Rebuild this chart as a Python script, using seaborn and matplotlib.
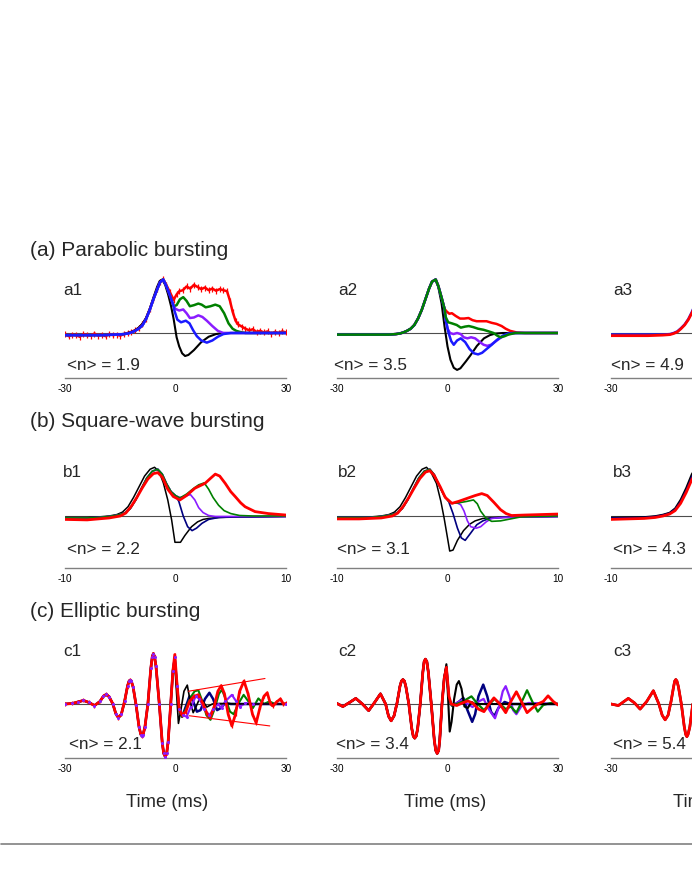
import matplotlib
matplotlib.use("Agg")
import matplotlib.pyplot as plt
from matplotlib.lines import Line2D
import seaborn as sns

# ---------------- data (time in ms, amplitude normalised: baseline 0, spike peak 1) -------------
# (a1) parabolic bursting, <n> = 1.9
a1_pre_t = [-30, -25, -20, -16, -14, -13, -12, -11, -10, -9, -8, -7, -6, -5, -4.2, -3.3, -2.5, -1.5, -0.5]
a1_pre_v = [-0.04, -0.04, -0.04, -0.03, -0.02, -0.01, 0.01, 0.04, 0.08, 0.14, 0.26, 0.43, 0.63, 0.81, 0.95, 1.0, 0.88, 0.7, 0.5]
a1_black_t = [-30, -25, -20, -16, -14, -13, -12, -11, -10, -9, -8, -7, -6, -5, -4.3, -3.6, -2.8, -2.0, -1.2, -0.5, 0.3, 1.0, 1.8, 2.6, 3.5, 5.0, 7.0, 9.0, 11.0, 13.0, 20.0, 30.0]
a1_black_v = [-0.04, -0.04, -0.04, -0.03, -0.02, 0.0, 0.02, 0.05, 0.1, 0.17, 0.28, 0.45, 0.66, 0.86, 0.97, 1.0, 0.9, 0.72, 0.5, 0.26, -0.08, -0.25, -0.38, -0.43, -0.41, -0.32, -0.17, -0.07, -0.02, 0.0, 0.0, 0.0]
a1_blue_t = [-0.3, 0.5, 1.5, 2.8, 3.8, 4.8, 5.8, 7.0, 8.5, 10.0, 11.5, 13.0, 15.0, 20.0, 30.0]
a1_blue_v = [0.42, 0.25, 0.2, 0.23, 0.18, 0.05, -0.06, -0.14, -0.18, -0.14, -0.07, -0.02, 0.0, 0.0, 0.0]
a1_purple_t = [0.0, 1.0, 2.1, 3.0, 3.9, 5.0, 6.2, 7.3, 8.5, 10.0, 11.5, 13.0, 15.0, 20.0, 30.0]
a1_purple_v = [0.45, 0.42, 0.44, 0.37, 0.28, 0.29, 0.33, 0.3, 0.23, 0.13, 0.04, 0.0, 0.0, 0.0, 0.0]
a1_green_t = [0.3, 1.2, 2.1, 3.0, 3.9, 5.0, 6.2, 7.1, 8.2, 9.5, 10.8, 12.0, 13.2, 14.4, 15.5, 16.5, 17.5, 19.0, 22.0, 30.0]
a1_green_v = [0.52, 0.63, 0.67, 0.6, 0.5, 0.52, 0.55, 0.53, 0.48, 0.5, 0.53, 0.5, 0.37, 0.18, 0.08, 0.04, 0.02, 0.0, 0.0, 0.0]
a1_red_t = [-30, -29, -28, -27, -26, -25, -24, -23, -22, -21, -20, -19, -18, -17, -16, -15, -14, -13,
            -12, -11, -10, -9, -8, -7, -6, -5, -4.2, -3.3, -2.5, -1.5, -0.5, 0.3,
            1, 2, 3, 4, 5, 6, 7, 8, 9, 10, 11, 12, 13, 14, 14.8, 15.5, 16.3,
            17, 18, 19, 20, 21, 22, 23, 24, 25, 26, 27, 28, 29, 30]
a1_red_v = [-0.02, -0.06, -0.03, -0.04, -0.07, -0.02, -0.04, -0.05, -0.01, -0.05, -0.03, -0.06, -0.02, -0.04, -0.03, -0.05, -0.02, 0.0,
            0.02, 0.05, 0.09, 0.16, 0.27, 0.44, 0.63, 0.82, 0.95, 1.0, 0.9, 0.76, 0.62, 0.72,
            0.78, 0.8, 0.87, 0.83, 0.9, 0.86, 0.82, 0.85, 0.8, 0.83, 0.79, 0.82, 0.8, 0.78, 0.6, 0.4, 0.23,
            0.16, 0.12, 0.08, 0.05, 0.07, 0.02, 0.04, 0.01, 0.03, -0.01, 0.02, 0.0, 0.03, 0.01]

# (a2) <n> = 3.5
a2_pre_t = [-30, -25, -20, -16, -14, -13, -12, -11, -10, -9, -8, -7, -6, -5, -4.2, -3.2, -2.5, -1.6, -0.8]
a2_pre_v = [-0.03, -0.03, -0.03, -0.03, -0.02, -0.01, 0.01, 0.04, 0.08, 0.15, 0.27, 0.43, 0.63, 0.83, 0.96, 1.0, 0.88, 0.66, 0.45]
a2_black_t = [-30, -20, -14, -13, -12, -11, -10, -9, -8, -7, -6, -5, -4.2, -3.3, -2.5, -1.6, -0.8, 0.0, 0.8, 1.7, 2.6, 3.5, 5.0, 6.2, 8.0, 9.9, 11.5, 13.0, 15.0, 30.0]
a2_black_v = [-0.03, -0.03, -0.02, -0.01, 0.01, 0.04, 0.08, 0.15, 0.27, 0.43, 0.63, 0.83, 0.96, 1.0, 0.86, 0.55, 0.12, -0.25, -0.5, -0.65, -0.69, -0.66, -0.53, -0.42, -0.24, -0.1, -0.04, -0.01, 0.0, 0.0]
a2_red_t = [-0.2, 0.5, 1.2, 2.2, 3.4, 4.5, 5.7, 6.8, 7.9, 9.2, 10.6, 12.0, 13.3, 14.7, 15.8, 17.0, 18.8, 21.0, 30.0]
a2_red_v = [0.4, 0.36, 0.37, 0.32, 0.27, 0.27, 0.28, 0.24, 0.22, 0.22, 0.22, 0.19, 0.17, 0.13, 0.08, 0.04, 0.01, 0.0, 0.0]
a2_green_t = [-0.5, 0.2, 1.2, 2.5, 3.6, 4.8, 5.8, 7.0, 8.3, 9.8, 11.2, 12.5, 13.5, 14.4, 15.5, 16.5, 18.4, 21.0, 30.0]
a2_green_v = [0.3, 0.2, 0.18, 0.15, 0.1, 0.12, 0.13, 0.11, 0.08, 0.06, 0.03, 0.0, -0.05, -0.08, -0.06, -0.03, 0.0, 0.0, 0.0]
a2_purple_t = [-0.5, 0.0, 0.7, 1.6, 2.6, 3.6, 4.4, 5.4, 6.4, 7.5, 8.6, 9.8, 10.8, 11.8, 13.0, 14.2, 15.4, 17.0, 19.0, 30.0]
a2_purple_v = [0.25, 0.08, 0.0, -0.02, 0.0, -0.02, -0.08, -0.1, -0.08, -0.1, -0.16, -0.22, -0.24, -0.22, -0.16, -0.1, -0.05, -0.01, 0.0, 0.0]
a2_blue_t = [-0.5, 0.3, 1.0, 1.7, 2.6, 3.6, 4.8, 6.0, 7.2, 8.3, 9.4, 10.6, 12.0, 13.4, 15.0, 16.5, 18.0, 30.0]
a2_blue_v = [0.25, 0.0, -0.15, -0.22, -0.14, -0.1, -0.17, -0.3, -0.38, -0.4, -0.37, -0.3, -0.22, -0.13, -0.05, -0.01, 0.0, 0.0]

# (a3) <n> = 4.9 (only the left part is inside the picture)
a3_t = [-30, -25, -20, -16, -14, -13, -12, -11, -10, -9, -8, -7, -6, -5, -4, -3.3]
a3_blue_v = [-0.03, -0.03, -0.03, -0.03, -0.02, 0.0, 0.03, 0.09, 0.16, 0.26, 0.4, 0.57, 0.76, 0.91, 0.98, 1.0]
a3_red_v = [-0.05, -0.05, -0.05, -0.04, -0.03, -0.01, 0.02, 0.08, 0.15, 0.25, 0.38, 0.55, 0.74, 0.9, 0.98, 1.0]

# (b1) square-wave bursting, <n> = 2.2
b1_black_t = [-10, -8, -7, -6, -5.3, -4.8, -4.3, -3.8, -3.3, -2.8, -2.3, -1.9, -1.5, -1.1, -0.7, -0.35, -0.05, 0.45, 0.85, 1.45, 2.0, 2.5, 3.0, 4.0, 6.0, 10.0]
b1_black_v = [-0.03, -0.03, -0.02, 0.0, 0.03, 0.08, 0.19, 0.38, 0.6, 0.82, 0.96, 1.0, 0.92, 0.68, 0.33, -0.08, -0.54, -0.54, -0.4, -0.22, -0.12, -0.07, -0.05, -0.03, -0.02, -0.01]
b1_pre_t = [-10, -8, -7, -6, -5.2, -4.6, -4.1, -3.6, -3.1, -2.6, -2.1, -1.6, -1.2, -0.8, -0.4, 0.0]
b1_pre_v = [-0.04, -0.04, -0.03, -0.01, 0.02, 0.06, 0.15, 0.33, 0.56, 0.78, 0.92, 0.96, 0.86, 0.66, 0.5, 0.42]
b1_navy_t = [0.3, 0.7, 1.1, 1.5, 1.9, 2.4, 3.0, 3.9, 5.0, 7.0, 10.0]
b1_navy_v = [0.3, 0.0, -0.22, -0.3, -0.25, -0.15, -0.07, -0.03, -0.02, -0.02, -0.01]
b1_purple_t = [0.4, 0.9, 1.35, 1.75, 2.1, 2.5, 3.0, 3.6, 5.0, 7.0, 10.0]
b1_purple_v = [0.38, 0.41, 0.44, 0.33, 0.17, 0.07, 0.01, -0.01, -0.01, -0.01, -0.01]
b1_green_t = [0.4, 1.0, 1.6, 2.1, 2.6, 3.0, 3.4, 3.9, 4.4, 5.0, 5.8, 7.0, 10.0]
b1_green_v = [0.37, 0.45, 0.56, 0.64, 0.68, 0.55, 0.38, 0.22, 0.11, 0.05, 0.01, 0.0, 0.0]
b1_red_t = [-10, -8, -7, -6, -5.0, -4.5, -4.0, -3.5, -3.0, -2.5, -2.0, -1.6, -1.2, -0.7, -0.2, 0.4, 1.0, 1.75, 2.67, 3.2, 3.6, 4.0, 4.5, 5.0, 5.4, 5.9, 6.3, 7.2, 8.4, 10.0]
b1_red_v = [-0.07, -0.08, -0.06, -0.04, 0.0, 0.06, 0.2, 0.38, 0.58, 0.76, 0.87, 0.89, 0.8, 0.55, 0.4, 0.33, 0.42, 0.57, 0.67, 0.78, 0.86, 0.82, 0.67, 0.5, 0.4, 0.27, 0.19, 0.09, 0.05, 0.02]

# (b2) <n> = 3.1
b2_black_t = [-10, -8, -7, -6, -5.3, -4.8, -4.3, -3.8, -3.3, -2.8, -2.3, -1.9, -1.5, -1.0, -0.6, -0.3, 0.0, 0.2, 0.5, 0.9, 1.45, 2.0, 2.5, 3.2, 4.5, 6.0, 10.0]
b2_black_v = [-0.02, -0.02, -0.02, 0.0, 0.03, 0.08, 0.19, 0.38, 0.6, 0.82, 0.96, 1.0, 0.9, 0.67, 0.3, -0.05, -0.45, -0.72, -0.7, -0.5, -0.3, -0.17, -0.1, -0.05, -0.03, -0.02, -0.01]
b2_pre_t = [-10, -8, -7, -6, -5.2, -4.6, -4.1, -3.6, -3.1, -2.6, -2.1, -1.6, -1.2, -0.7, -0.3, 0.1]
b2_pre_v = [-0.03, -0.03, -0.03, -0.01, 0.02, 0.06, 0.15, 0.33, 0.56, 0.78, 0.92, 0.96, 0.85, 0.6, 0.42, 0.3]
b2_navy_t = [0.5, 0.9, 1.25, 1.6, 2.1, 2.65, 3.2, 3.8, 5.0, 7.0, 10.0]
b2_navy_v = [0.05, -0.25, -0.45, -0.5, -0.35, -0.18, -0.1, -0.05, -0.03, -0.02, -0.01]
b2_purple_t = [0.4, 0.85, 1.2, 1.5, 1.8, 2.1, 2.6, 3.0, 3.5, 4.0, 5.0, 7.0, 10.0]
b2_purple_v = [0.26, 0.27, 0.23, 0.1, -0.1, -0.22, -0.25, -0.22, -0.12, -0.05, -0.03, -0.02, -0.01]
b2_green_t = [0.4, 1.0, 1.75, 2.35, 2.7, 3.0, 3.5, 4.0, 4.8, 5.7, 6.6, 8.0, 10.0]
b2_green_v = [0.26, 0.27, 0.3, 0.33, 0.25, 0.1, -0.05, -0.11, -0.1, -0.06, -0.02, -0.01, 0.0]
b2_red_t = [-10, -8, -7, -6, -5.0, -4.5, -4.0, -3.5, -3.0, -2.5, -2.0, -1.6, -1.2, -0.66, -0.2, 0.4, 1.0, 1.75, 2.5, 3.1, 3.6, 4.2, 4.8, 5.3, 5.8, 7.0, 8.5, 10.0]
b2_red_v = [-0.06, -0.06, -0.05, -0.04, 0.0, 0.06, 0.2, 0.38, 0.58, 0.77, 0.9, 0.93, 0.83, 0.6, 0.38, 0.26, 0.3, 0.36, 0.42, 0.46, 0.42, 0.28, 0.13, 0.05, 0.01, 0.02, 0.03, 0.04]

# (b3) <n> = 4.3 (left part only)
b3_t = [-10, -7, -6, -5.3, -4.7, -4.2, -3.7, -3.2, -2.7, -2.3, -1.9]
b3_black_v = [-0.03, -0.02, 0.0, 0.03, 0.07, 0.16, 0.34, 0.58, 0.86, 1.0, 1.0]
b3_navy_v = [-0.04, -0.03, -0.01, 0.02, 0.06, 0.14, 0.3, 0.53, 0.8, 0.95, 0.98]
b3_red_v = [-0.07, -0.05, -0.03, 0.0, 0.04, 0.11, 0.26, 0.48, 0.74, 0.9, 0.95]

# (c1) elliptic bursting, <n> = 2.1
c1_pre_t = [-30, -28, -26.5, -25, -23.5, -22, -20.5, -19.6, -18.8, -18, -17, -16.2, -15.5, -14.7, -13.8, -13,
            -12.6, -12.3, -12.0, -11.5, -10.7, -9.9, -9.4, -9.1, -8.8, -8.3, -7.5, -6.7, -6.3, -6.0, -5.7, -5.3,
            -4.4, -3.6, -3.2, -2.8, -2.4, -2.0, -1.3, -0.7]
c1_pre_v = [0.0, 0.01, 0.04, 0.07, 0.03, -0.03, 0.05, 0.15, 0.19, 0.14, 0.0, -0.19, -0.27, -0.2, 0.06, 0.36,
            0.45, 0.47, 0.45, 0.33, -0.02, -0.45, -0.6, -0.62, -0.6, -0.45, 0.0, 0.7, 0.93, 0.99, 0.93, 0.74,
            0.0, -0.76, -0.97, -1.03, -0.97, -0.74, 0.0, 0.65]
c1_black_t = [-0.2, 0.3, 0.8, 1.5, 2.3, 3.2, 4.0, 4.8, 5.6, 6.5, 7.5, 8.5, 10.0, 12.0, 20.0, 30.0]
c1_black_v = [0.8, 0.2, -0.38, -0.1, 0.25, 0.37, 0.05, -0.17, -0.05, 0.1, 0.05, -0.06, 0.0, 0.01, 0.0, 0.0]
c1_navy_t = [-0.2, 0.4, 1.0, 1.8, 2.8, 3.8, 4.8, 5.8, 6.8, 8.0, 9.2, 10.2, 11.3, 12.3, 13.5, 15.0, 30.0]
c1_navy_v = [0.9, 0.35, -0.1, -0.25, -0.05, 0.15, 0.05, -0.15, -0.12, 0.1, 0.22, 0.1, -0.12, -0.08, 0.02, 0.0, 0.0]
c1_green_t = [-0.2, 0.4, 1.0, 1.8, 2.8, 4.0, 5.2, 6.2, 7.3, 8.4, 9.5, 10.6, 11.8, 12.6, 13.6, 14.8, 15.8, 17.0,
              18.5, 19.8, 21.0, 22.5, 24.0, 25.5, 27.0, 30.0]
c1_green_v = [0.92, 0.35, -0.1, -0.25, -0.1, 0.12, 0.25, 0.27, 0.05, -0.22, -0.31, -0.1, 0.2, 0.28, 0.1, -0.15, -0.2, 0.0,
              0.18, 0.05, -0.08, 0.11, 0.0, 0.05, 0.0, 0.0]
c1_purple_t = [-0.2, 0.4, 1.0, 2.0, 3.0, 4.2, 5.5, 6.5, 7.8, 9.2, 10.3, 11.5, 12.5, 13.5, 15.3, 16.5, 17.5, 19.0, 21.0, 30.0]
c1_purple_v = [0.92, 0.35, -0.1, -0.22, -0.25, -0.05, 0.15, 0.1, -0.1, -0.22, -0.1, 0.0, -0.08, 0.05, 0.18, 0.05, -0.05, 0.02, 0.0, 0.0]
c1_red_t = [-0.2, 0.4, 1.0, 1.8, 2.8, 3.8, 5.0, 6.2, 7.5, 8.6, 9.5, 10.5, 11.5, 12.4, 13.3, 14.3, 15.3, 16.3, 17.4, 18.6,
            19.7, 20.9, 21.9, 23.0, 24.0, 24.9, 25.8, 26.5, 27.3, 28.5, 29.3, 30.0]
c1_red_v = [0.97, 0.4, -0.1, -0.22, -0.15, 0.05, 0.15, 0.18, 0.0, -0.2, -0.25, -0.05, 0.25, 0.36, 0.2, -0.2, -0.43, -0.2, 0.25, 0.45,
            0.2, -0.2, -0.37, -0.05, 0.15, 0.22, 0.0, -0.04, 0.03, 0.1, 0.0, 0.01]
c1_env_top_t = [3.5, 24.3]
c1_env_top_v = [0.25, 0.5]
c1_env_bot_t = [3.7, 25.6]
c1_env_bot_v = [-0.23, -0.43]

# (c2) <n> = 3.4
c2_pre_t = [-30, -28.4, -26.6, -24.9, -23.1, -21.4, -19.8, -18.2, -16.8, -16.0, -15.3, -14.5, -13.7, -12.9, -12.5,
            -12.1, -11.7, -11.3, -10.5, -9.7, -9.3, -8.9, -8.5, -8.1, -7.4, -6.7, -6.35, -6.0, -5.6, -5.2,
            -4.4, -3.6, -3.2, -2.8, -2.4, -2.1, -1.5, -0.9]
c2_pre_v = [0.01, -0.05, 0.03, 0.11, 0.0, -0.13, 0.03, 0.2, 0.0, -0.24, -0.33, -0.23, 0.02, 0.35, 0.45,
            0.48, 0.45, 0.34, 0.0, -0.48, -0.63, -0.67, -0.63, -0.48, 0.0, 0.62, 0.83, 0.88, 0.83, 0.62,
            0.0, -0.7, -0.91, -0.97, -0.91, -0.7, 0.0, 0.5]
c2_black_t = [-0.3, 0.1, 0.6, 1.1, 1.8, 2.5, 3.1, 3.8, 4.6, 5.5, 6.5, 7.5, 9.0, 30.0]
c2_black_v = [0.78, 0.2, -0.54, -0.35, 0.1, 0.38, 0.45, 0.3, -0.05, -0.08, 0.04, 0.0, 0.0, 0.0]
c2_navy_t = [-0.3, 0.4, 1.2, 2.2, 3.2, 4.3, 5.3, 6.7, 7.5, 8.4, 9.7, 10.8, 11.8, 12.7, 13.8, 15.5, 17.0, 30.0]
c2_navy_v = [0.72, 0.1, -0.03, 0.0, 0.05, 0.12, -0.1, -0.35, -0.2, 0.15, 0.38, 0.15, -0.15, -0.24, -0.08, 0.04, 0.0, 0.0]
c2_purple_t = [-0.3, 0.4, 1.2, 2.5, 4.0, 5.5, 6.8, 8.5, 9.8, 11.2, 12.9, 14.2, 15.0, 15.8, 16.8, 17.8, 18.7, 20.0, 22.0, 30.0]
c2_purple_v = [0.72, 0.1, -0.03, 0.02, 0.08, 0.0, -0.06, 0.05, 0.1, -0.1, -0.28, 0.0, 0.25, 0.35, 0.15, -0.12, -0.2, -0.05, 0.02, 0.0]
c2_green_t = [-0.3, 0.4, 1.2, 2.5, 4.2, 6.5, 8.2, 9.9, 11.4, 12.8, 14.3, 15.8, 17.2, 18.7, 20.2, 21.6, 23.0, 24.5, 26.0, 28.0, 30.0]
c2_green_v = [0.72, 0.1, -0.03, 0.0, 0.05, 0.15, 0.0, -0.12, 0.0, 0.1, 0.0, -0.1, -0.05, -0.17, 0.05, 0.27, 0.05, -0.15, -0.02, 0.02, 0.0]
c2_red_t = [-0.3, 0.4, 1.0, 2.5, 4.0, 5.5, 6.8, 8.4, 9.9, 11.3, 12.6, 14.2, 15.8, 17.2, 18.7, 20.2, 21.6, 23.0, 24.5, 26.0, 27.3, 28.7, 30.0]
c2_red_v = [0.72, 0.15, 0.0, -0.03, 0.02, 0.06, 0.02, -0.1, -0.15, 0.0, 0.12, 0.0, -0.17, 0.05, 0.24, 0.03, -0.17, -0.08, 0.0, 0.05, 0.16, 0.05, -0.02]

# (c3) <n> = 5.4 (left part only)
c3_t = [-30, -28, -25.3, -23.6, -22.1, -20.3, -18.5, -17, -16.1, -15.3, -14.5, -13.7, -13.0, -12.7, -12.4, -12.1, -11.7,
        -10.9, -10.1, -9.7, -9.4, -9.1, -8.6, -7.8]
c3_v = [0.0, -0.03, 0.11, 0.02, -0.1, 0.05, 0.26, 0.0, -0.22, -0.31, -0.22, 0.05, 0.34, 0.45, 0.48, 0.45, 0.34,
        0.0, -0.45, -0.6, -0.64, -0.6, -0.45, 0.0]

row_titles = ["(a) Parabolic bursting", "(b) Square-wave bursting", "(c) Elliptic bursting"]
panel_names = [["a1", "a2", "a3"], ["b1", "b2", "b3"], ["c1", "c2", "c3"]]
n_labels = [["<n> = 1.9", "<n> = 3.5", "<n> = 4.9"],
            ["<n> = 2.2", "<n> = 3.1", "<n> = 4.3"],
            ["<n> = 2.1", "<n> = 3.4", "<n> = 5.4"]]
row_ticks = [[-30, 0, 30], [-10, 0, 10], [-30, 0, 30]]
row_tick_labels = [["-30", "0", "30"], ["-10", "0", "10"], ["-30", "0", "30"]]
x_label = "Time (ms)"

# ---------------- style ----------------
BLACK, BLUE, NAVY, PURPLE, GREEN, RED = "#000000", "#1a1aff", "#000080", "#8a1cff", "#008000", "#ff0000"

sns.set_style("white")
plt.rcParams["font.family"] = ["Liberation Sans", "DejaVu Sans"]

W, H = 692, 896
fig = plt.figure(figsize=(W / 100, H / 100), dpi=100)
fig.patch.set_facecolor("white")

def fx(px):
    return px / W

def fy(py):
    return 1 - py / H

col_left = [65, 337, 611]
col_width = 221
# per row: spine pixel, baseline pixel, pixels per unit, top of y-range (units)
row_geom = [(378, 333, 53.5, 1.2), (568, 516, 48.7, 1.2), (758, 704, 51.0, 1.15)]
row_xlim = [(-30, 30), (-10, 10), (-30, 30)]

axes = []
for r in range(3):
    spine, base, unit, ytop = row_geom[r]
    ybot = -(spine - base) / unit
    top_px = base - ytop * unit
    row_axes = []
    for c in range(3):
        ax = fig.add_axes([fx(col_left[c]), fy(spine), col_width / W, (spine - top_px) / H])
        x0, x1 = row_xlim[r]
        ax.set_xlim(x0, x1)
        ax.set_ylim(ybot, ytop)
        ax.set_facecolor("none")
        for s in ("left", "right", "top"):
            ax.spines[s].set_visible(False)
        ax.spines["bottom"].set_color("#808080")
        ax.spines["bottom"].set_linewidth(1.0)
        ax.set_yticks([])
        ax.set_xticks(row_ticks[r])
        # tick labels that would fall outside the picture are left blank (cropped panel)
        labels = []
        for tk, lab in zip(row_ticks[r], row_tick_labels[r]):
            px = col_left[c] + (tk - x0) / (x1 - x0) * col_width
            labels.append(lab if px < W - 8 else "")
        ax.set_xticklabels(labels)
        ax.tick_params(axis="x", direction="out", length=3, width=0.8, color="#808080",
                       pad=1.5, labelsize=7.2, labelcolor="black")
        ax.axhline(0, color="#4d4d4d", lw=0.8, zorder=1)
        ax.set_xlabel("")
        ax.set_ylabel("")
        row_axes.append(ax)
    axes.append(row_axes)

def draw(ax, t, v, color, lw, z, **kw):
    sns.lineplot(x=t, y=v, ax=ax, color=color, linewidth=lw, zorder=z, sort=False,
                 estimator=None, legend=False, **kw)

# ---- row a ----
ax = axes[0][0]
draw(ax, a1_red_t, a1_red_v, RED, 1.8, 2, marker="|", markersize=4, markeredgewidth=0.9, markeredgecolor=RED)
draw(ax, a1_pre_t + a1_green_t, a1_pre_v + a1_green_v, GREEN, 1.8, 3)
draw(ax, a1_black_t, a1_black_v, BLACK, 1.5, 4)
draw(ax, a1_pre_t + a1_purple_t, a1_pre_v + a1_purple_v, PURPLE, 1.8, 5)
draw(ax, a1_pre_t + a1_blue_t, a1_pre_v + a1_blue_v, BLUE, 1.8, 6)

ax = axes[0][1]
draw(ax, a2_pre_t + a2_red_t, a2_pre_v + a2_red_v, RED, 1.8, 2)
draw(ax, a2_black_t, a2_black_v, BLACK, 1.5, 3)
draw(ax, a2_pre_t + a2_purple_t, a2_pre_v + a2_purple_v, PURPLE, 1.8, 4)
draw(ax, a2_pre_t + a2_blue_t, a2_pre_v + a2_blue_v, BLUE, 1.8, 5)
draw(ax, a2_pre_t + a2_green_t, a2_pre_v + a2_green_v, GREEN, 1.8, 6)

ax = axes[0][2]
draw(ax, a3_t, a3_blue_v, BLUE, 1.8, 3)
draw(ax, a3_t, a3_red_v, RED, 2.0, 4)

# ---- row b ----
ax = axes[1][0]
draw(ax, b1_black_t, b1_black_v, BLACK, 1.1, 2)
draw(ax, b1_pre_t + b1_navy_t, b1_pre_v + b1_navy_v, NAVY, 1.2, 3)
draw(ax, b1_pre_t + b1_purple_t, b1_pre_v + b1_purple_v, PURPLE, 1.2, 4)
draw(ax, b1_pre_t + b1_green_t, b1_pre_v + b1_green_v, GREEN, 1.2, 5)
draw(ax, b1_red_t, b1_red_v, RED, 2.0, 6)

ax = axes[1][1]
draw(ax, b2_black_t, b2_black_v, BLACK, 1.1, 2)
draw(ax, b2_pre_t + b2_navy_t, b2_pre_v + b2_navy_v, NAVY, 1.2, 3)
draw(ax, b2_pre_t + b2_purple_t, b2_pre_v + b2_purple_v, PURPLE, 1.2, 4)
draw(ax, b2_pre_t + b2_green_t, b2_pre_v + b2_green_v, GREEN, 1.2, 5)
draw(ax, b2_red_t, b2_red_v, RED, 2.0, 6)

ax = axes[1][2]
draw(ax, b3_t, b3_black_v, BLACK, 1.2, 2)
draw(ax, b3_t, b3_navy_v, NAVY, 1.2, 3)
draw(ax, b3_t, b3_red_v, RED, 2.0, 4)

# ---- row c ----
ax = axes[2][0]
draw(ax, c1_pre_t + c1_navy_t, c1_pre_v + c1_navy_v, NAVY, 1.8, 2)
draw(ax, c1_pre_t + c1_green_t, c1_pre_v + c1_green_v, GREEN, 1.5, 3)
draw(ax, c1_pre_t + c1_purple_t, c1_pre_v + c1_purple_v, PURPLE, 1.5, 4)
draw(ax, c1_pre_t + c1_black_t, c1_pre_v + c1_black_v, BLACK, 1.2, 5)
draw(ax, c1_pre_t + c1_red_t, c1_pre_v + c1_red_v, RED, 2.0, 6,
     marker="|", markersize=3.5, markeredgewidth=0.9, markeredgecolor=RED)
draw(ax, c1_pre_t + c1_purple_t, c1_pre_v + c1_purple_v, PURPLE, 0, 7,
     linestyle="", marker="o", markersize=2.2, markeredgewidth=0, markerfacecolor=PURPLE)
draw(ax, c1_env_top_t, c1_env_top_v, RED, 0.8, 7)
draw(ax, c1_env_bot_t, c1_env_bot_v, RED, 0.8, 7)

ax = axes[2][1]
draw(ax, c2_pre_t + c2_navy_t, c2_pre_v + c2_navy_v, NAVY, 1.8, 2)
draw(ax, c2_pre_t + c2_purple_t, c2_pre_v + c2_purple_v, PURPLE, 1.6, 3)
draw(ax, c2_pre_t + c2_green_t, c2_pre_v + c2_green_v, GREEN, 1.6, 4)
draw(ax, c2_pre_t + c2_black_t, c2_pre_v + c2_black_v, BLACK, 1.5, 5)
draw(ax, c2_pre_t + c2_red_t, c2_pre_v + c2_red_v, RED, 2.0, 6)

ax = axes[2][2]
draw(ax, c3_t, c3_v, BLACK, 1.8, 3)
draw(ax, c3_t, c3_v, RED, 2.0, 4)

# ---------------- texts ----------------
title_base = [255.5, 427, 617]
label_base = [295, 477, 656]
label_x = [63, 338, 613]
n_base = [370, 554, 749]
n_x = [[67, 334, 611], [67, 337, 613], [69, 336, 613]]
for r in range(3):
    fig.text(fx(30), fy(title_base[r]), row_titles[r], fontsize=15, va="baseline", ha="left")
    for c in range(3):
        fig.text(fx(label_x[c]), fy(label_base[r]), panel_names[r][c], fontsize=12.3, va="baseline", ha="left")
        fig.text(fx(n_x[r][c]), fy(n_base[r]), n_labels[r][c], fontsize=12.3, va="baseline", ha="left")

for cx in [167, 445, 714]:
    fig.text(fx(cx), fy(807), x_label, fontsize=13.2, va="baseline", ha="center")

fig.add_artist(Line2D([fx(1), 1.0], [fy(844), fy(844)], color="#808080", lw=1.2))

fig.savefig("out.png", dpi=100, facecolor="white")
